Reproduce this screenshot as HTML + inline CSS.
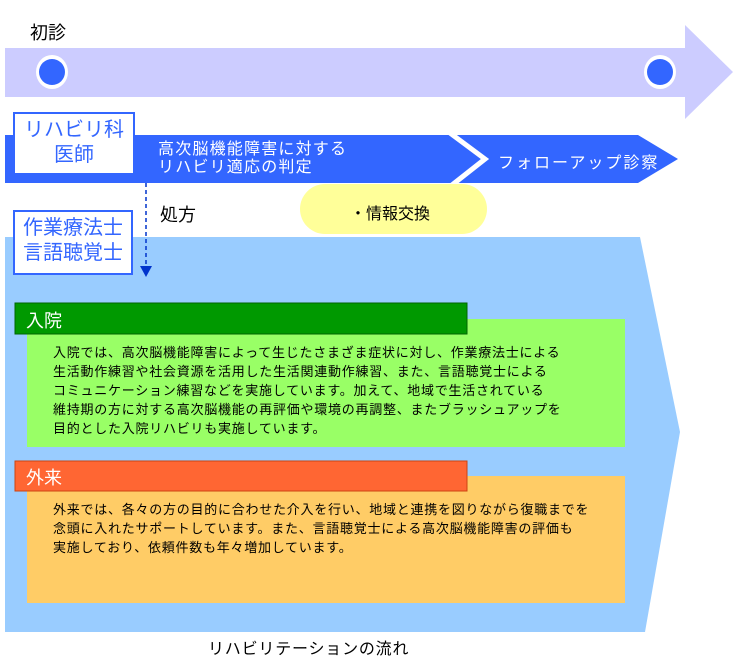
<!DOCTYPE html>
<html><head><meta charset="utf-8"><style>
body{margin:0;background:#fff;width:750px;height:656px;overflow:hidden;position:relative;font-family:"Liberation Sans","Noto Sans CJK JP",sans-serif}
.a{position:absolute;white-space:nowrap}
.box{position:absolute;background:#fff;border:2px solid #3366ff;color:#3366ff;font-size:20px;line-height:25px;text-align:center;box-sizing:border-box;padding-top:4px}
.t{font-size:13px;line-height:19px;color:#000;letter-spacing:0.75px}
</style></head><body>
<svg width="750" height="656" style="position:absolute;left:0;top:0">
<polygon points="5,48 685,48 685,25 733,72 685,119 685,97 5,97" fill="#ccccff"/>
<ellipse cx="52" cy="72" rx="16" ry="17" fill="#fff"/><ellipse cx="52" cy="72" rx="13" ry="13" fill="#3366ff"/>
<ellipse cx="660" cy="72" rx="16" ry="17" fill="#fff"/><ellipse cx="660" cy="72" rx="13" ry="13" fill="#3366ff"/>
<polygon points="5,135 638,135 678,159 638,183 5,183" fill="#3366ff"/>
<polyline points="450,133 485,159 452,185" fill="none" stroke="#fff" stroke-width="5"/>
<polygon points="5,237 640,237 680,432 645,632 5,632" fill="#99ccff"/>
<rect x="300" y="184" width="187" height="50" rx="25" fill="#ffff99"/>
<line x1="146" y1="183" x2="146" y2="268" stroke="#0033cc" stroke-width="1.5" stroke-dasharray="4,3"/>
<polygon points="140,266 152,266 146,277" fill="#0033cc"/>
<rect x="27" y="319" width="598" height="128" fill="#99ff66"/>
<rect x="15" y="303" width="452" height="31" fill="#009900" stroke="#006600" stroke-width="1"/>
<rect x="27" y="476" width="598" height="127" fill="#ffcc66"/>
<rect x="15" y="461" width="452" height="30" fill="#ff6633" stroke="#cc4411" stroke-width="1"/>
</svg>
<div class="a" style="left:30px;top:19px;font-size:18px">初診</div>
<div class="box" style="left:13px;top:112px;width:122px;height:63px">リハビリ科<br>医師</div>
<div class="box" style="left:13px;top:210px;width:120px;height:65px">作業療法士<br>言語聴覚士</div>
<div class="a" style="left:158px;top:141px;font-size:16px;line-height:18px;color:#fff;letter-spacing:1.2px">高次脳機能障害に対する<br>リハビリ適応の判定</div>
<div class="a" style="left:498px;top:149px;font-size:16px;color:#fff;letter-spacing:2px">フォローアップ診察</div>
<div class="a" style="left:160px;top:201px;font-size:18px">処方</div>
<div class="a" style="left:350px;top:200px;font-size:16px">・情報交換</div>
<div class="a" style="left:26px;top:307px;font-size:18px;color:#fff">入院</div>
<div class="a t" style="left:53px;top:343px">入院では、高次脳機能障害によって生じたさまざま症状に対し、作業療法士による<br>生活動作練習や社会資源を活用した生活関連動作練習、また、言語聴覚士による<br>コミュニケーション練習などを実施しています。加えて、地域で生活されている<br>維持期の方に対する高次脳機能の再評価や環境の再調整、またブラッシュアップを<br>目的とした入院リハビリも実施しています。</div>
<div class="a" style="left:26px;top:464px;font-size:18px;color:#fff">外来</div>
<div class="a t" style="left:53px;top:500px">外来では、各々の方の目的に合わせた介入を行い、地域と連携を図りながら復職までを<br>念頭に入れたサポートしています。また、言語聴覚士による高次脳機能障害の評価も<br>実施しており、依頼件数も年々増加しています。</div>
<div class="a" style="left:208px;top:635px;font-size:16px;letter-spacing:0.8px">リハビリテーションの流れ</div>
</body></html>
